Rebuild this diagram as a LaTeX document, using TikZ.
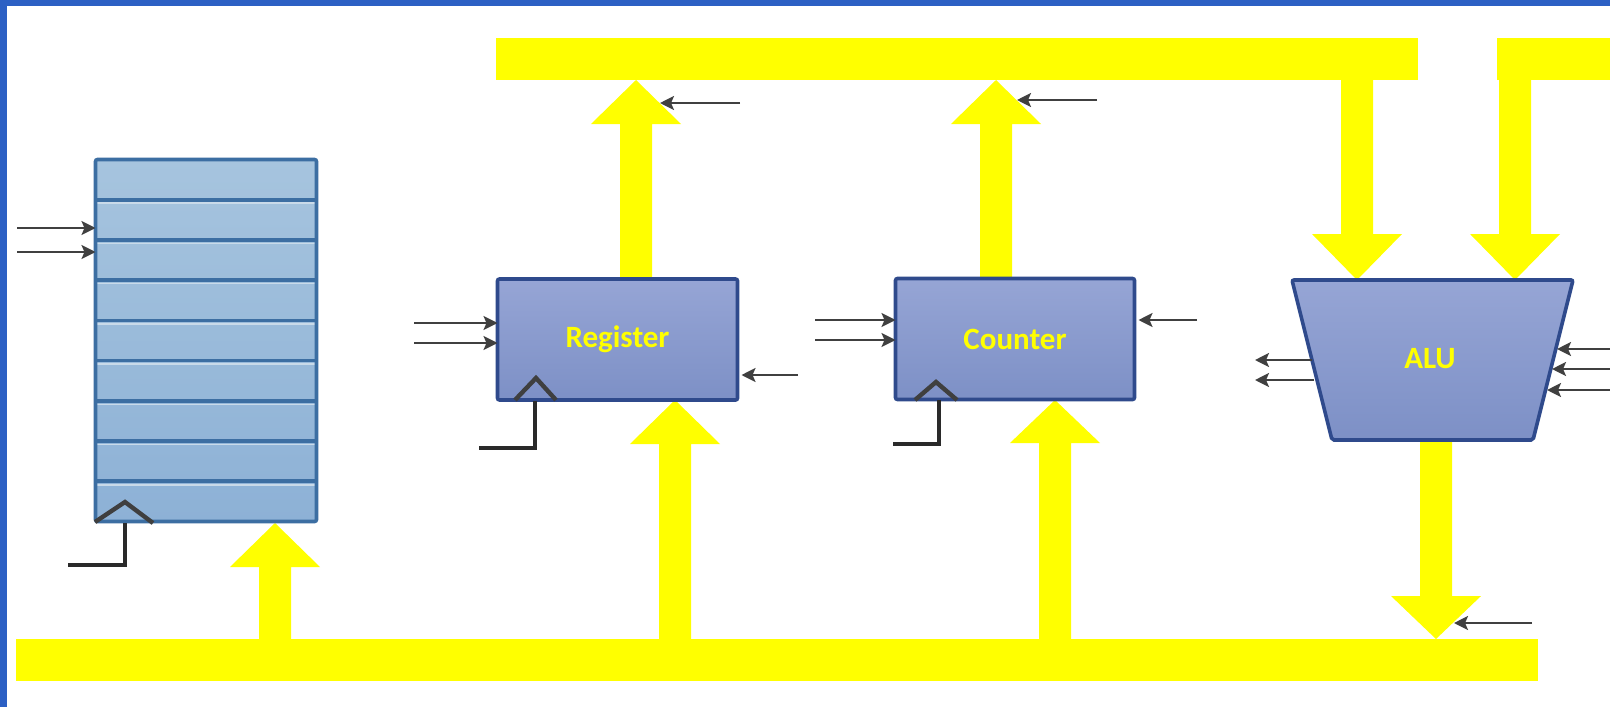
\documentclass[tikz,border=0pt]{standalone}
\usepackage{fontspec}
\newfontfamily\lblfont{Carlito}
\usetikzlibrary{arrows.meta}

\definecolor{frameblue}{HTML}{2C60C4}
\definecolor{busyellow}{HTML}{FFFF00}
\definecolor{boxtop}{HTML}{96A5D5}
\definecolor{boxbot}{HTML}{7D90C6}
\definecolor{boxline}{HTML}{2F4A8C}
\definecolor{rftop}{HTML}{A6C4DE}
\definecolor{rfbot}{HTML}{8DB1D6}
\definecolor{rfline}{HTML}{3C6EA2}
\definecolor{rfhi}{HTML}{C9DAE9}
\definecolor{sigcol}{HTML}{404040}
\definecolor{clkcol}{HTML}{2A2A2A}

% wide yellow bus arrow: centre x, tail y, head-base y, tip y
\newcommand\busarrow[4]{%
  \fill[busyellow] (#1-16,#2) -- (#1-16,#3) -- (#1-45,#3) -- (#1,#4)
    -- (#1+45,#3) -- (#1+16,#3) -- (#1+16,#2) -- cycle;}

\tikzset{
  unitbox/.style={draw=boxline, line width=1.8pt, top color=boxtop, bottom color=boxbot,
    rounded corners=1pt, inner sep=0pt, outer sep=0pt,
    font=\lblfont\bfseries\fontsize{15.5pt}{18pt}\selectfont, text=busyellow},
  sig/.style={draw=sigcol, line width=1.1pt, -{Stealth[length=7pt,width=7pt,inset=1.5pt]}},
  clkedge/.style={draw=clkcol!90!white, line width=2.2pt},
  clkwire/.style={draw=clkcol, line width=2.2pt},
  lbl/.style={font=\lblfont\bfseries\fontsize{15.5pt}{18pt}\selectfont, text=busyellow}
}

\begin{document}
\begin{tikzpicture}[x=0.5pt, y=-0.5pt]
\useasboundingbox (0,0) rectangle (1610,707);
\fill[white] (0,0) rectangle (1610,707);
\fill[frameblue] (0,0) rectangle (1610,6);
\fill[frameblue] (0,0) rectangle (7,707);

% buses
\fill[busyellow] (496,38) rectangle (1418,80);
\fill[busyellow] (1497,38) rectangle (1610,80);
\fill[busyellow] (16,639) rectangle (1538,681);

% bus arrows
\busarrow{636}{278}{124}{80}
\busarrow{996}{278}{124}{80}
\busarrow{275}{639}{567}{523}
\busarrow{675}{639}{444}{400}
\busarrow{1055}{639}{443}{400}
\busarrow{1357}{80}{234}{280}
\busarrow{1515}{80}{234}{280}
\busarrow{1436}{440}{596}{639}

% register file
\path[top color=rftop, bottom color=rfbot] (95.5,159.5) rectangle (316.5,521.5);
\foreach \i in {1,...,8} {
  \pgfmathsetmacro\ry{159.5+\i*40.22}
  \draw[rfhi, line width=0.8pt] (95.5,\ry+3.5) -- (316.5,\ry+3.5);
  \draw[rfline, line width=1.8pt] (95.5,\ry) -- (316.5,\ry);
}
\node[draw=rfline, line width=1.8pt, minimum width=110.5pt, minimum height=181pt,
  inner sep=0pt, outer sep=0pt, rounded corners=1pt] (rf) at (206,340.5) {};

% register and counter
\node[unitbox, minimum width=120pt, minimum height=60.5pt] (reg) at (617.5,339.5) {Register};
\node[unitbox, minimum width=119.5pt, minimum height=60.5pt] (cnt) at (1015,339) {Counter};

% ALU
\path[draw=boxline, line width=1.8pt, top color=boxtop, bottom color=boxbot, rounded corners=1pt]
  (1292,280) -- (1573,280) -- (1533,440) -- (1332,440) -- cycle;
\node[lbl] (alu) at (1430,359) {ALU};

% control signals
\coordinate (rfa) at (17,228);
\coordinate (rfb) at (17,252);
\draw[sig] (rfa) -- (rfa -| rf.west);
\draw[sig] (rfb) -- (rfb -| rf.west);

\coordinate (rga) at (414,323);
\coordinate (rgb) at (414,343);
\coordinate (rgc) at (798,375);
\draw[sig] (rga) -- (rga -| reg.west);
\draw[sig] (rgb) -- (rgb -| reg.west);
\draw[sig] (rgc) -- ([xshift=2pt]rgc -| reg.east);

\coordinate (cta) at (815,320);
\coordinate (ctb) at (815,340);
\coordinate (ctc) at (1197,320);
\draw[sig] (cta) -- (cta -| cnt.west);
\draw[sig] (ctb) -- (ctb -| cnt.west);
\draw[sig] (ctc) -- ([xshift=2pt]ctc -| cnt.east);

\coordinate (rgo) at (740,103);
\coordinate (rgot) at (660,103);
\draw[sig] (rgo) -- (rgot);
\coordinate (cto) at (1097,100);
\coordinate (ctot) at (1017,100);
\draw[sig] (cto) -- (ctot);

\coordinate (alo1) at (1312,360);
\coordinate (alo1t) at (1255,360);
\coordinate (alo2) at (1314,380);
\coordinate (alo2t) at (1255,380);
\draw[sig] (alo1) -- (alo1t);
\draw[sig] (alo2) -- (alo2t);
\coordinate (ali1) at (1610,349);
\coordinate (ali1t) at (1557,349);
\coordinate (ali2) at (1610,369);
\coordinate (ali2t) at (1552,369);
\coordinate (ali3) at (1610,390);
\coordinate (ali3t) at (1547,390);
\draw[sig] (ali1) -- (ali1t);
\draw[sig] (ali2) -- (ali2t);
\draw[sig] (ali3) -- (ali3t);

\coordinate (aob) at (1532,623);
\coordinate (aobt) at (1454,623);
\draw[sig] (aob) -- (aobt);

% clock inputs
\draw[clkedge] (95,522) -- (125,502) -- (153,523);
\draw[clkwire] (125,523) -- (125,565) -- (68,565);
\draw[clkedge] (515,400) -- (536,378) -- (556,400);
\draw[clkwire] (535,401) -- (535,448) -- (479,448);
\draw[clkedge] (915,400) -- (936,382) -- (957,400);
\draw[clkwire] (939,400) -- (939,444) -- (893,444);
\end{tikzpicture}
\end{document}
